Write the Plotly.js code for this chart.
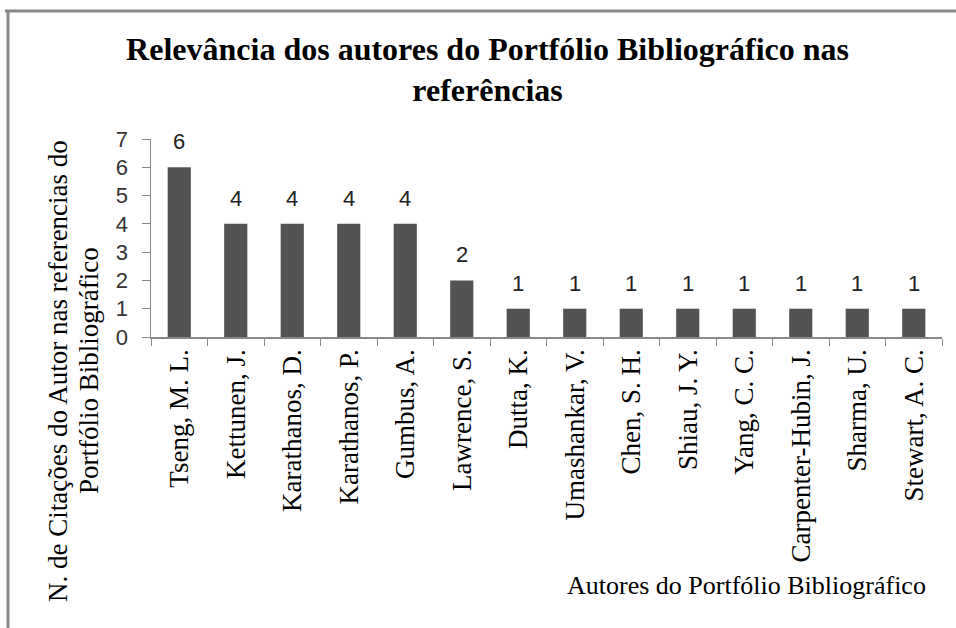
<!DOCTYPE html>
<html>
<head>
<meta charset="utf-8">
<script src="https://cdn.plot.ly/plotly-3.0.1.min.js"></script>
<style>
  html, body { margin: 0; padding: 0; background: #fff; }
  #chart { width: 956px; height: 628px; }
</style>
</head>
<body>
<div id="chart"></div>
<script>
const authors = ["Tseng, M. L.", "Kettunen, J.", "Karathanos, D.", "Karathanos, P.", "Gumbus, A.",
  "Lawrence, S.", "Dutta, K.", "Umashankar, V.", "Chen, S. H.", "Shiau, J. Y.", "Yang, C. C.",
  "Carpenter-Hubin, J.", "Sharma, U.", "Stewart, A. C."];
const citations = [6, 4, 4, 4, 4, 2, 1, 1, 1, 1, 1, 1, 1, 1];
const yTicks = [0, 1, 2, 3, 4, 5, 6, 7];

const titleText = "Relevância dos autores do Portfólio Bibliográfico nas<br>referências";
const yTitleLines = ["N. de Citações do Autor nas referencias do", "Portfólio Bibliográfico"];
const xTitleText = "Autores do Portfólio Bibliográfico";

const serif = "Liberation Serif, Times New Roman, serif";
const sans = "Liberation Sans, Arial, sans-serif";

const trace = {
  type: "bar",
  x: authors,
  y: citations,
  marker: { color: "#535353", line: { width: 0 } },
  hoverinfo: "x+y"
};

const labelAnns = authors.map((a, i) => ({
  x: a, y: citations[i], xref: "x", yref: "y",
  text: String(citations[i]), showarrow: false,
  yanchor: "bottom", yshift: 11,
  font: { family: sans, size: 22, color: "#222" }
}));

const plotL = 151, plotR = 942, plotT = 139, plotB = 337;
const pw = plotR - plotL, ph = plotB - plotT;
const px = v => (v - plotL) / pw;
const py = v => (plotB - v) / ph;

const yTitleAnns = yTitleLines.map((t, i) => ({
  text: t, textangle: -90, showarrow: false,
  xref: "paper", yref: "paper",
  x: px([58, 89][i]), xanchor: "center",
  y: py(371), yanchor: "middle",
  font: { family: serif, size: 27, color: "#000" }
}));

const layout = {
  width: 956, height: 628,
  margin: { l: plotL, r: 956 - plotR, t: plotT, b: 628 - plotB },
  paper_bgcolor: "#fff", plot_bgcolor: "#fff",
  showlegend: false,
  bargap: 0.59,
  title: {
    text: titleText,
    font: { family: serif, size: 32, color: "#000", weight: "bold" },
    x: 0.51, xanchor: "center", xref: "container",
    y: 0.905, yanchor: "top", yref: "container"
  },
  xaxis: {
    type: "category",
    tickangle: -90,
    tickfont: { family: serif, size: 27, color: "#000" },
    showline: true, linecolor: "#888", linewidth: 1.5,
    ticks: "outside", tickson: "boundaries", ticklen: 7, tickcolor: "#888",
    showgrid: false, zeroline: false, fixedrange: true
  },
  yaxis: {
    range: [0, 7],
    tickvals: yTicks,
    tickfont: { family: sans, size: 22, color: "#333" },
    showline: true, linecolor: "#888", linewidth: 1.5,
    ticks: "outside", ticklen: 8, tickcolor: "#888",
    ticklabelstandoff: 9,
    showgrid: false, zeroline: false, fixedrange: true
  },
  annotations: labelAnns.concat(yTitleAnns, [
    {
      text: xTitleText, showarrow: false,
      xref: "paper", yref: "paper",
      x: px(928), xanchor: "right",
      y: py(585), yanchor: "middle",
      font: { family: serif, size: 26, color: "#000" }
    }
  ]),
  shapes: [
    { type: "line", xref: "paper", yref: "paper", x0: px(5), x1: px(960), y0: py(11), y1: py(11),
      line: { color: "#888", width: 3 } },
    { type: "line", xref: "paper", yref: "paper", x0: px(8), x1: px(8), y0: py(11), y1: py(640),
      line: { color: "#888", width: 3 } }
  ]
};

Plotly.newPlot("chart", [trace], layout, { displayModeBar: false, staticPlot: true });
</script>
</body>
</html>
